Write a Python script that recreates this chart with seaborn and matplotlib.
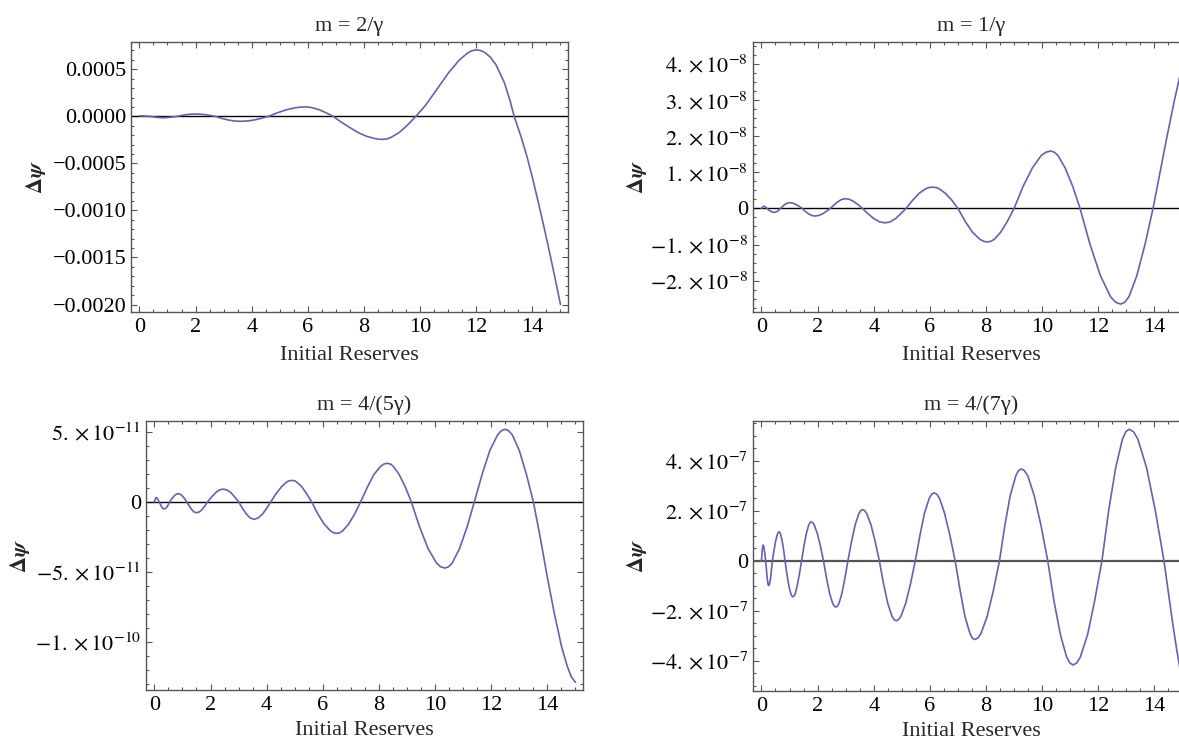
import numpy as np
import matplotlib
matplotlib.use("Agg")
import matplotlib.pyplot as plt
import seaborn as sns
from matplotlib.ticker import MultipleLocator

sns.set_theme(style="white")
plt.rcParams.update({
    "font.family": ["Liberation Serif", "DejaVu Serif"],
    "mathtext.fontset": "stix",
    "font.size": 16,
    "axes.titlesize": 16,
    "axes.labelsize": 16,
    "xtick.labelsize": 16,
    "ytick.labelsize": 16,
    "axes.unicode_minus": True,
})

# ---- m = 2/gamma  (values in units of 1e-4) ----
p1_x = [0.0, 0.2, 0.35, 0.5, 0.68, 0.85, 1.02, 1.2, 1.35, 1.5, 1.67, 1.83,
        2.0, 2.17, 2.35, 2.52, 2.7, 2.92, 3.15, 3.38, 3.6, 3.85, 4.1, 4.35,
        4.6, 4.92, 5.25, 5.57, 5.74, 5.9, 6.03, 6.15, 6.4, 6.65, 6.9, 7.2,
        7.5, 7.8, 8.1, 8.4, 8.52, 8.65, 8.8, 8.95, 9.25, 9.55, 9.85, 10.2,
        10.6, 11.0, 11.4, 11.7, 11.85, 12.0, 12.15, 12.3, 12.5, 12.7, 13.0,
        13.2, 13.35, 13.6, 13.8, 14.0, 14.2, 14.4, 14.6, 14.8, 15.0]
p1_y = [0.05, 0.03, 0.0, -0.06, -0.12, -0.15, -0.12, -0.06, 0.0, 0.09, 0.18,
        0.23, 0.25, 0.23, 0.18, 0.09, 0.0, -0.2, -0.38, -0.49, -0.53, -0.49,
        -0.38, -0.2, 0.0, 0.38, 0.71, 0.92, 0.98, 1.0, 0.98, 0.92, 0.71,
        0.38, 0.0, -0.63, -1.2, -1.74, -2.13, -2.37, -2.43, -2.45, -2.41,
        -2.26, -1.73, -0.93, 0.0, 1.2, 2.88, 4.58, 6.0, 6.75, 6.98, 7.07,
        7.0, 6.8, 6.3, 5.5, 3.6, 1.7, 0.0, -2.2, -4.2, -6.5, -9.0, -11.6,
        -14.3, -17.1, -20.0]

# ---- m = 1/gamma  (values in units of 1e-8) ----
p2_x = [0.0, 0.03, 0.06, 0.1, 0.15, 0.2, 0.26, 0.33, 0.39, 0.45, 0.51, 0.57,
        0.62, 0.68, 0.76, 0.84, 0.92, 1.0, 1.11, 1.22, 1.34, 1.45, 1.56,
        1.68, 1.79, 1.9, 2.04, 2.18, 2.31, 2.45, 2.59, 2.73, 2.86, 3.0, 3.14,
        3.29, 3.45, 3.6, 3.8, 4.0, 4.2, 4.4, 4.59, 4.78, 4.96, 5.15, 5.39,
        5.62, 5.86, 5.98, 6.1, 6.21, 6.32, 6.55, 6.78, 7.0, 7.26, 7.52, 7.79,
        7.92, 8.05, 8.17, 8.29, 8.52, 8.76, 9.0, 9.32, 9.65, 9.97, 10.14,
        10.3, 10.43, 10.56, 10.82, 11.09, 11.35, 11.71, 12.08, 12.44, 12.62,
        12.8, 12.94, 13.09, 13.37, 13.66, 13.95, 14.2, 14.45, 14.7, 15.0]
p2_y = [0.0, 0.03, 0.055, 0.06, 0.035, 0.0, -0.045, -0.08, -0.1, -0.11,
        -0.1, -0.08, -0.045, 0.0, 0.06, 0.115, 0.148, 0.16, 0.148, 0.115,
        0.06, 0.0, -0.08, -0.15, -0.195, -0.21, -0.195, -0.15, -0.08, 0.0,
        0.1, 0.19, 0.25, 0.27, 0.25, 0.19, 0.1, 0.0, -0.15, -0.28, -0.37,
        -0.40, -0.37, -0.28, -0.15, 0.0, 0.23, 0.42, 0.55, 0.58, 0.59, 0.58,
        0.55, 0.42, 0.23, 0.0, -0.36, -0.66, -0.86, -0.91, -0.93, -0.91,
        -0.86, -0.66, -0.36, 0.0, 0.61, 1.12, 1.47, 1.56, 1.59, 1.56, 1.47,
        1.12, 0.61, 0.0, -1.01, -1.87, -2.45, -2.6, -2.65, -2.6, -2.45,
        -1.87, -1.01, 0.0, 1.0, 2.0, 2.95, 4.0]

# ---- m = 4/(5 gamma)  (values in units of 1e-11) ----
p3_x = [0.0, 0.02, 0.045, 0.07, 0.1, 0.135, 0.17, 0.215, 0.26, 0.305, 0.35,
        0.4, 0.45, 0.5, 0.55, 0.625, 0.7, 0.775, 0.85, 0.925, 1.0, 1.075,
        1.15, 1.24, 1.33, 1.41, 1.5, 1.6, 1.7, 1.8, 1.9, 2.04, 2.18, 2.31,
        2.45, 2.59, 2.73, 2.86, 3.0, 3.14, 3.28, 3.41, 3.55, 3.7, 3.85, 4.0,
        4.15, 4.34, 4.53, 4.71, 4.8, 4.9, 5.0, 5.07, 5.25, 5.42, 5.6, 5.82,
        6.05, 6.27, 6.39, 6.5, 6.6, 6.71, 6.92, 7.14, 7.35, 7.59, 7.82, 8.06,
        8.18, 8.3, 8.41, 8.51, 8.72, 8.94, 9.15, 9.45, 9.75, 10.05, 10.2,
        10.35, 10.48, 10.61, 10.87, 11.14, 11.4, 11.68, 11.95, 12.23, 12.36,
        12.5, 12.62, 12.75, 13.0, 13.25, 13.5, 13.75, 14.0, 14.25, 14.5,
        14.7, 14.85, 15.0]
p3_y = [0.0, 0.12, 0.25, 0.29, 0.25, 0.12, 0.0, -0.2, -0.37, -0.48, -0.52,
        -0.48, -0.37, -0.2, 0.0, 0.22, 0.4, 0.53, 0.57, 0.53, 0.4, 0.22, 0.0,
        -0.3, -0.56, -0.73, -0.79, -0.73, -0.56, -0.3, 0.0, 0.34, 0.64, 0.83,
        0.9, 0.83, 0.64, 0.34, 0.0, -0.48, -0.89, -1.16, -1.26, -1.16, -0.89,
        -0.48, 0.0, 0.58, 1.07, 1.4, 1.49, 1.52, 1.49, 1.4, 1.07, 0.58, 0.0,
        -0.86, -1.6, -2.08, -2.22, -2.26, -2.22, -2.08, -1.6, -0.86, 0.0,
        1.05, 1.94, 2.53, 2.69, 2.74, 2.69, 2.53, 1.94, 1.05, 0.0, -1.81,
        -3.35, -4.38, -4.65, -4.74, -4.65, -4.38, -3.35, -1.81, 0.0, 1.98,
        3.66, 4.78, 5.07, 5.17, 5.07, 4.78, 3.66, 1.98, 0.0, -2.6, -5.4,
        -8.0, -10.3, -11.7, -12.5, -12.9]

# ---- m = 4/(7 gamma)  (values in units of 1e-7) ----
p4_x = [0.0, 0.015, 0.03, 0.045, 0.06, 0.08, 0.1, 0.125, 0.15, 0.18, 0.205,
        0.23, 0.245, 0.26, 0.275, 0.29, 0.325, 0.355, 0.39, 0.45, 0.51,
        0.57, 0.6, 0.63, 0.655, 0.68, 0.735, 0.79, 0.84, 0.91, 0.98, 1.05,
        1.085, 1.12, 1.16, 1.2, 1.27, 1.35, 1.43, 1.515, 1.6, 1.685, 1.73,
        1.77, 1.825, 1.88, 1.99, 2.1, 2.21, 2.32, 2.43, 2.54, 2.595, 2.65,
        2.705, 2.76, 2.865, 2.97, 3.08, 3.21, 3.34, 3.47, 3.535, 3.6, 3.675,
        3.75, 3.9, 4.05, 4.2, 4.35, 4.5, 4.65, 4.725, 4.8, 4.885, 4.97, 5.14,
        5.31, 5.48, 5.65, 5.81, 5.98, 6.065, 6.15, 6.245, 6.34, 6.52, 6.71,
        6.9, 7.08, 7.25, 7.43, 7.51, 7.6, 7.71, 7.82, 8.04, 8.26, 8.48, 8.67,
        8.86, 9.06, 9.155, 9.25, 9.37, 9.49, 9.72, 9.96, 10.2, 10.42, 10.65,
        10.87, 10.99, 11.1, 11.23, 11.36, 11.62, 11.87, 12.13, 12.37, 12.62,
        12.86, 12.98, 13.1, 13.255, 13.41, 13.72, 14.03, 14.34, 14.5, 14.65,
        14.8, 15.0]
p4_y = [0.0, 0.25, 0.45, 0.58, 0.63, 0.58, 0.45, 0.25, 0.0, -0.38, -0.7,
        -0.91, -0.975, -0.99, -0.975, -0.91, -0.7, -0.38, 0.0, 0.44, 0.82,
        1.07, 1.14, 1.16, 1.14, 1.07, 0.82, 0.44, 0.0, -0.55, -1.02, -1.33,
        -1.41, -1.44, -1.41, -1.33, -1.02, -0.55, 0.0, 0.6, 1.1, 1.44, 1.53,
        1.56, 1.53, 1.44, 1.1, 0.6, 0.0, -0.71, -1.31, -1.71, -1.81, -1.85,
        -1.81, -1.71, -1.31, -0.71, 0.0, 0.78, 1.45, 1.89, 2.01, 2.05, 2.01,
        1.89, 1.45, 0.78, 0.0, -0.92, -1.7, -2.22, -2.35, -2.4, -2.35, -2.22,
        -1.7, -0.92, 0.0, 1.04, 1.92, 2.51, 2.67, 2.72, 2.67, 2.51, 1.92,
        1.04, 0.0, -1.2, -2.23, -2.91, -3.09, -3.15, -3.09, -2.91, -2.23,
        -1.2, 0.0, 1.41, 2.6, 3.4, 3.61, 3.68, 3.61, 3.4, 2.6, 1.41, 0.0,
        -1.6, -2.95, -3.85, -4.09, -4.17, -4.09, -3.85, -2.95, -1.6, 0.0,
        2.02, 3.73, 4.87, 5.17, 5.27, 5.17, 4.87, 3.73, 2.02, 0.0, -1.3,
        -2.5, -3.6, -4.9]

titles = ["m = 2/γ", "m = 1/γ", "m = 4/(5γ)", "m = 4/(7γ)"]

p1_ticks = [-0.0020, -0.0015, -0.0010, -0.0005, 0.0, 0.0005]
p1_labels = ["\u22120.0020", "\u22120.0015", "\u22120.0010", "\u22120.0005",
             "0.0000", "0.0005"]
p2_ticks = [-2e-8, -1e-8, 0.0, 1e-8, 2e-8, 3e-8, 4e-8]
p2_labels = [r"$-2.\times10^{-8}$", r"$-1.\times10^{-8}$", "0",
             r"$1.\times10^{-8}$", r"$2.\times10^{-8}$",
             r"$3.\times10^{-8}$", r"$4.\times10^{-8}$"]
p3_ticks = [-1e-10, -5e-11, 0.0, 5e-11]
p3_labels = [r"$-1.\times10^{-10}$", r"$-5.\times10^{-11}$", "0",
             r"$5.\times10^{-11}$"]
p4_ticks = [-4e-7, -2e-7, 0.0, 2e-7, 4e-7]
p4_labels = [r"$-4.\times10^{-7}$", r"$-2.\times10^{-7}$", "0",
             r"$2.\times10^{-7}$", r"$4.\times10^{-7}$"]

LINE = "#6560b8"
FRAME = "#555555"

fig = plt.figure(figsize=(11.79, 7.41), dpi=100)

panels = [
    dict(rect=[0.1111, 0.5789, 0.3707, 0.3644], x=p1_x, y=np.array(p1_y) * 1e-4,
         ylim=(-0.00208, 0.00079), ticks=p1_ticks, labels=p1_labels,
         minor=0.0001, title=titles[0], ylx=-0.217, zc="black", zw=1.0, lp=7),
    dict(rect=[0.6387, 0.5789, 0.3707, 0.3644], x=p2_x, y=np.array(p2_y) * 1e-8,
         ylim=(-2.87e-8, 4.61e-8), ticks=p2_ticks, labels=p2_labels,
         minor=0.25e-8, title=titles[1], ylx=-0.265, zc="black", zw=1.0, lp=7),
    dict(rect=[0.1238, 0.0688, 0.3707, 0.3630], x=p3_x, y=np.array(p3_y) * 1e-11,
         ylim=(-13.45e-11, 5.76e-11), ticks=p3_ticks, labels=p3_labels,
         minor=1e-11, title=titles[2], ylx=-0.288, zc="black", zw=1.0, lp=4.5),
    dict(rect=[0.6387, 0.0675, 0.3707, 0.3644], x=p4_x, y=np.array(p4_y) * 1e-7,
         ylim=(-5.21e-7, 5.6e-7), ticks=p4_ticks, labels=p4_labels,
         minor=0.5e-7, title=titles[3], ylx=-0.265, zc="#555555", zw=1.6, lp=4.5),
]

for p in panels:
    ax = fig.add_axes(p["rect"])
    ax.axhline(0, color=p["zc"], lw=p["zw"], zorder=1)
    sns.lineplot(x=p["x"], y=p["y"], ax=ax, color=LINE, lw=1.2,
                 estimator=None, sort=False, zorder=2)
    ax.set_xlim(-0.3, 15.27)
    ax.set_ylim(*p["ylim"])
    ax.set_xticks(range(0, 15, 2))
    ax.xaxis.set_minor_locator(MultipleLocator(0.5))
    ax.set_yticks(p["ticks"], p["labels"])
    ax.yaxis.set_minor_locator(MultipleLocator(p["minor"]))
    ax.tick_params(which="both", direction="in", bottom=True, left=True,
                   top=True, right=True, color=FRAME, width=0.8,
                   labelcolor="black")
    ax.tick_params(which="major", length=4.5)
    ax.tick_params(which="minor", length=2.5)
    ax.tick_params(axis="x", pad=4)
    ax.tick_params(axis="y", pad=3.5)
    for sp in ax.spines.values():
        sp.set_visible(True)
        sp.set_color(FRAME)
        sp.set_linewidth(1.0)
    ax.set_title(p["title"], pad=8)
    ax.set_xlabel("Initial Reserves", labelpad=p["lp"])
    ax.set_ylabel(r"$\mathbf{\Delta}\mathbfit{\psi}$", va="center")
    ax.yaxis.set_label_coords(p["ylx"], 0.5)

fig.savefig("out.png", dpi=100, facecolor="white")
